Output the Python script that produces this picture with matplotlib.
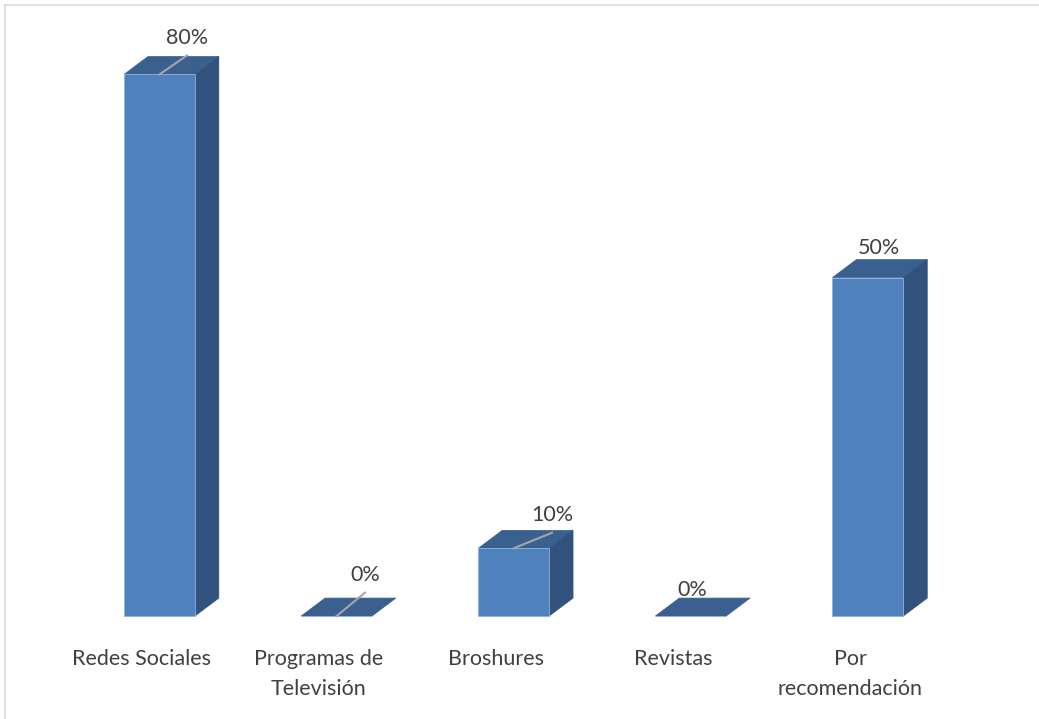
import matplotlib
matplotlib.use('Agg')
import matplotlib.pyplot as plt
from matplotlib.patches import Polygon
from matplotlib.lines import Line2D

# chart data
categories = ['Redes Sociales', 'Programas de\nTelevisión', 'Broshures', 'Revistas', 'Por\nrecomendación']
values = [80, 0, 10, 0, 50]
value_labels = ['80%', '0%', '10%', '0%', '50%']

# style / layout
front = '#4F81BD'
top_col = '#3A6090'
side_col = '#30527C'
text_col = '#404040'
bar_w = 0.40
dx, dy = 0.135, 2.65          # pseudo 3d depth in data units
lab_dx = [0.155, 0.16, 0.216, 0.007, 0.062]
lab_dy = [5.4, 6.05, 4.9, 3.85, 4.35]
leader = [True, True, True, False, False]

plt.rcParams['font.family'] = ['Lato', 'DejaVu Sans']

fig = plt.figure(figsize=(10.39, 7.19), dpi=100)
ax = fig.add_axes([0, 0, 1, 1])
ax.set_xlim(-0.9006, 4.966)
ax.set_ylim(-15.21, 90.99)
ax.axis('off')

xs = list(range(len(values)))
ax.bar(xs, values, width=bar_w, color=front, edgecolor='#8FB0D8', linewidth=0.6, zorder=3)

for x, v in zip(xs, values):
	l, r = x - bar_w / 2, x + bar_w / 2
	# top face
	ax.add_patch(Polygon([(l, v), (r, v), (r + dx, v + dy), (l + dx, v + dy)],
		closed=True, facecolor=top_col, edgecolor=top_col, linewidth=0.5, zorder=2))
	# right side
	if v > 0:
		ax.add_patch(Polygon([(r, 0), (r + dx, dy), (r + dx, v + dy), (r, v)],
			closed=True, facecolor=side_col, edgecolor=side_col, linewidth=0.5, zorder=2))

# value labels with leader lines
for i, (x, v) in enumerate(zip(xs, values)):
	tx, ty = x + lab_dx[i], v + lab_dy[i]
	if leader[i]:
		ax.plot([x, tx], [v, ty - 2.6], color='#A6A6A6', linewidth=1.5, zorder=4)
	ax.text(tx, ty, value_labels[i], ha='center', va='center', fontsize=15.5, color=text_col, zorder=5)

# category labels
for x, c in zip(xs, categories):
	ax.text(x - 0.1, -4.9, c, ha='center', va='top', fontsize=15.5, color=text_col,
		linespacing=1.62)

# chart border (only left and top visible)
fig.add_artist(Line2D([5 / 1039, 5 / 1039], [0, 1 - 5 / 719], transform=fig.transFigure, color='#D9D9D9', linewidth=1.2))
fig.add_artist(Line2D([5 / 1039, 1], [1 - 5 / 719, 1 - 5 / 719], transform=fig.transFigure, color='#D9D9D9', linewidth=1.2))

fig.savefig('out.png', dpi=100)
